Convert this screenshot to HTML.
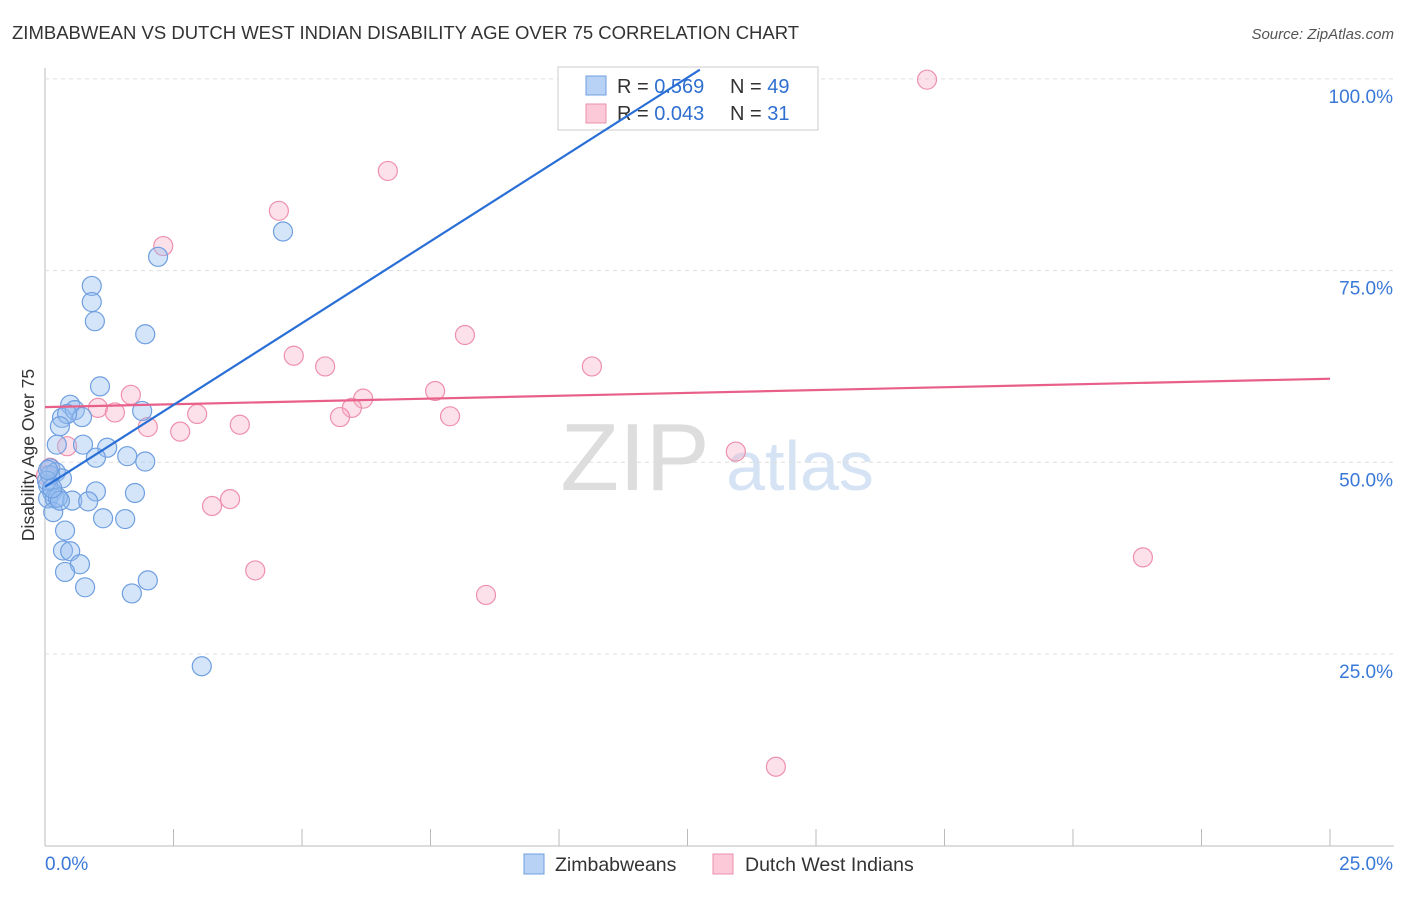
<!DOCTYPE html>
<html><head><meta charset="utf-8"><style>
body{margin:0;background:#fff;font-family:"Liberation Sans",sans-serif}
svg text{font-family:"Liberation Sans",sans-serif}
</style></head><body>
<svg id="c" width="1406" height="892">
<text x="12" y="39" font-size="18.5" fill="#333">ZIMBABWEAN VS DUTCH WEST INDIAN DISABILITY AGE OVER 75 CORRELATION CHART</text>
<text x="1394" y="39" font-size="15" fill="#555" text-anchor="end" font-style="italic">Source: ZipAtlas.com</text>
<text x="34" y="455" font-size="17.5" fill="#333" text-anchor="middle" transform="rotate(-90 34 455)">Disability Age Over 75</text>
<text x="635" y="490" font-size="96" fill="#ddd" font-family="Liberation Serif" text-anchor="middle">ZIP</text>
<text x="800" y="490" font-size="70" fill="#d5e3f5" text-anchor="middle">atlas</text>
<g id="grid"></g>
<g>
<rect x="558" y="67" width="260" height="63" fill="#fff" stroke="#ccc"/>
<rect x="586" y="76" width="20" height="19" fill="#b8d2f5" stroke="#6f9fe0"/>
<rect x="586" y="104" width="20" height="19" fill="#fbc9d8" stroke="#ee90ad"/>
<text x="617" y="93" font-size="20" fill="#333">R = <tspan fill="#2f6fd0">0.569</tspan></text>
<text x="730" y="93" font-size="20" fill="#333">N = <tspan fill="#2f6fd0">49</tspan></text>
<text x="617" y="120" font-size="20" fill="#333">R = <tspan fill="#2f6fd0">0.043</tspan></text>
<text x="730" y="120" font-size="20" fill="#333">N =  <tspan fill="#2f6fd0">31</tspan></text>
</g>
<g id="marks"></g>
<g>
<rect x="524" y="854" width="20" height="20" fill="#b8d2f5" stroke="#6f9fe0"/>
<text x="555" y="871" font-size="19.5" fill="#333">Zimbabweans</text>
<rect x="713" y="854" width="20" height="20" fill="#fbc9d8" stroke="#ee90ad"/>
<text x="745" y="871" font-size="19.5" fill="#333">Dutch West Indians</text>
</g>
</svg>
<script>
const blueX=[.91,.91,.97,2.20,4.63,1.95,1.07,.49,.33,.58,.72,.43,1.89,.29,.23,.74,1.21,.99,1.60,1.95,.10,.21,.33,.06,.14,.99,1.75,.06,.19,.53,.84,.16,1.13,1.56,.39,.35,.49,.68,.39,.78,2.00,1.69,3.05,.10,.04,.25,.29,.06,.14];
const blueY=[73.0,70.9,68.4,76.8,80.1,66.7,59.9,57.5,55.8,56.8,55.9,56.3,56.7,54.7,52.3,52.3,51.9,50.6,50.8,50.1,49.2,48.7,47.9,47.0,46.1,46.2,46.0,45.3,45.3,45.0,44.9,43.5,42.7,42.6,41.1,38.5,38.4,36.7,35.7,33.7,34.6,32.9,23.4,48.3,47.6,45.4,45.0,49.0,46.6];
const pinkX=[17.16,6.67,4.55,2.30,8.17,4.84,5.45,10.64,1.67,7.59,6.19,5.97,5.74,1.03,1.36,2.96,7.88,2.00,3.79,2.63,.43,13.44,.10,3.60,3.25,4.09,8.58,21.36,14.22,.02];
const pinkY=[99.9,88.0,82.8,78.2,66.6,63.9,62.5,62.5,58.8,59.3,58.3,57.1,55.9,57.1,56.5,56.3,56.0,54.6,54.9,54.0,52.1,51.4,49.3,45.2,44.3,35.9,32.7,37.6,10.3,48.3];
const blueLine=[46.8,4.27,12.74]; // intercept, slope, end x
const pinkLine=[57.2,0.148,25];
const yTicks=[25,50,75,100];
const xTicks=[0,25];
const NS='http://www.w3.org/2000/svg';
const X=v=>45+v/25*1285, Y=v=>845.7-v/25*191.7;
function mk(p,t,a){const e=document.createElementNS(NS,t);for(const k in a)e.setAttribute(k,a[k]);p.appendChild(e);return e;}
const g=document.getElementById('grid'),m=document.getElementById('marks');
let ax=mk(g,'line',{x1:45,y1:68,x2:45,y2:846,stroke:'#bbb'});


ax=mk(g,'line',{x1:45,y1:846,x2:1394,y2:846,stroke:'#bbb'});


for(let i=1;i<=10;i++){const t=mk(g,'line',{x1:45+i*128.5,y1:829,x2:45+i*128.5,y2:846,stroke:'#bbb'});

}
yTicks.forEach(v=>{const l=mk(g,'line',{x1:45,x2:1394,y1:Y(v),y2:Y(v),stroke:'#ddd','stroke-dasharray':'4 4'});


const t=mk(g,'text',{x:1393,y:Y(v)+24,'font-size':19,fill:'#3a78d8','text-anchor':'end'});t.textContent=v.toFixed(1)+'%';

});
xTicks.forEach((v,i)=>{const t=mk(g,'text',{x:i?1393:45,y:870,'font-size':19,fill:'#3a78d8','text-anchor':i?'end':'start'});t.textContent=v.toFixed(1)+'%';

});
pinkX.forEach((x,i)=>{const c=mk(m,'circle',{cx:X(x),cy:Y(pinkY[i]),r:9.5,fill:'rgba(248,170,195,0.35)',stroke:'#ee90ad','stroke-width':1.2});

});
blueX.forEach((x,i)=>{const c=mk(m,'circle',{cx:X(x),cy:Y(blueY[i]),r:9.5,fill:'rgba(150,190,240,0.4)',stroke:'#6f9fe0','stroke-width':1.2});

});
let l=mk(m,'line',{x1:X(0),y1:Y(pinkLine[0]),x2:X(pinkLine[2]),y2:Y(pinkLine[0]+pinkLine[1]*pinkLine[2]),stroke:'#e8608a','stroke-width':2.2});


l=mk(m,'line',{x1:X(0),y1:Y(blueLine[0]),x2:X(blueLine[2]),y2:Y(blueLine[0]+blueLine[1]*blueLine[2]),stroke:'#2a6fd6','stroke-width':2.2});


</script>
</body></html>
